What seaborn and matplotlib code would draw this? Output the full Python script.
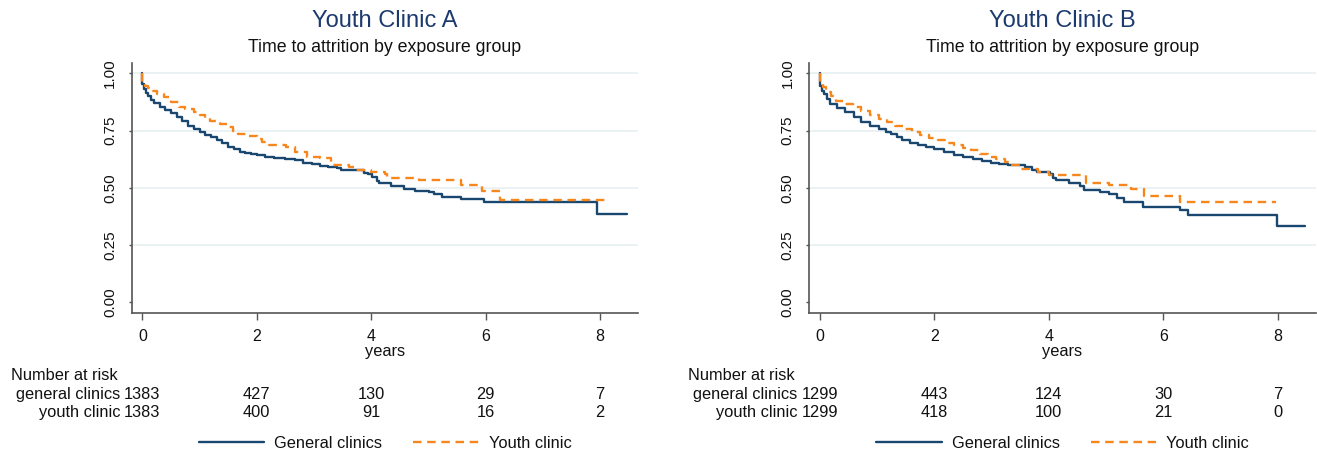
import matplotlib
matplotlib.use("Agg")
import matplotlib.pyplot as plt
import pandas as pd
import seaborn as sns


# Kaplan-Meier steps (time in years, survival from that time on)
A_GEN_T = [0, 0, 0.03, 0.06, 0.1, 0.15, 0.2, 0.3, 0.4, 0.5, 0.6, 0.7, 0.8, 0.9, 1.0, 1.1, 1.2, 1.3,
           1.4, 1.5, 1.6, 1.7, 1.8, 1.9, 2.0, 2.15, 2.3, 2.5, 2.66, 2.8, 2.96, 3.1, 3.25, 3.4, 3.47,
           3.88, 3.95, 4.02, 4.1, 4.13, 4.35, 4.57, 4.76, 5.01, 5.1, 5.24, 5.57, 5.97, 7.95, 8.47]
A_GEN_S = [1.0, 0.954, 0.93, 0.915, 0.9, 0.885, 0.87, 0.855, 0.84, 0.825, 0.81, 0.79, 0.772, 0.755,
           0.742, 0.73, 0.72, 0.708, 0.694, 0.68, 0.668, 0.658, 0.652, 0.647, 0.642, 0.636, 0.629,
           0.625, 0.62, 0.61, 0.603, 0.597, 0.591, 0.585, 0.58, 0.567, 0.56, 0.548, 0.532, 0.519,
           0.509, 0.497, 0.487, 0.48, 0.473, 0.461, 0.45, 0.436, 0.384, 0.384]

A_YOU_T = [0, 0, 0.05, 0.1, 0.16, 0.25, 0.38, 0.5, 0.64, 0.75, 0.9, 1.0, 1.1, 1.19, 1.35, 1.49, 1.58,
           1.67, 1.85, 2.0, 2.1, 2.22, 2.51, 2.66, 2.88, 3.1, 3.29, 3.62, 3.73, 3.99, 4.24, 4.28, 4.83,
           5.57, 5.93, 6.26, 8.1]
A_YOU_S = [1.0, 0.96, 0.945, 0.935, 0.925, 0.91, 0.895, 0.875, 0.855, 0.845, 0.832, 0.82, 0.805, 0.79,
           0.778, 0.765, 0.75, 0.736, 0.725, 0.714, 0.7, 0.686, 0.678, 0.657, 0.635, 0.632, 0.6, 0.591,
           0.577, 0.57, 0.562, 0.543, 0.533, 0.514, 0.487, 0.446, 0.446]

B_GEN_T = [0, 0, 0.04, 0.07, 0.12, 0.18, 0.3, 0.44, 0.6, 0.73, 0.88, 1.03, 1.15, 1.25, 1.35, 1.43, 1.57,
           1.72, 1.86, 2.0, 2.17, 2.34, 2.5, 2.67, 2.83, 2.99, 3.14, 3.29, 3.58, 3.7, 3.8, 4.02, 4.08,
           4.13, 4.35, 4.54, 4.62, 4.9, 5.06, 5.2, 5.31, 5.64, 6.3, 6.43, 7.99, 8.48]
B_GEN_S = [1.0, 0.946, 0.925, 0.91, 0.89, 0.867, 0.85, 0.83, 0.81, 0.787, 0.772, 0.758, 0.746, 0.736,
           0.722, 0.71, 0.698, 0.686, 0.678, 0.671, 0.657, 0.642, 0.635, 0.628, 0.619, 0.61, 0.604,
           0.599, 0.591, 0.58, 0.57, 0.559, 0.545, 0.533, 0.519, 0.507, 0.49, 0.483, 0.471, 0.454,
           0.439, 0.417, 0.403, 0.381, 0.334, 0.334]

B_YOU_T = [0, 0, 0.05, 0.11, 0.2, 0.29, 0.44, 0.59, 0.73, 0.88, 1.03, 1.17, 1.32, 1.47, 1.62, 1.76, 1.91,
           2.06, 2.2, 2.35, 2.5, 2.64, 2.8, 2.94, 3.08, 3.23, 3.36, 3.49, 3.82, 4.0, 4.66, 5.06, 5.43,
           5.66, 6.3, 7.97]
B_YOU_S = [1.0, 0.96, 0.94, 0.917, 0.9, 0.881, 0.866, 0.852, 0.834, 0.816, 0.801, 0.787, 0.772, 0.758,
           0.743, 0.729, 0.718, 0.707, 0.696, 0.686, 0.675, 0.664, 0.65, 0.635, 0.624, 0.613, 0.598,
           0.584, 0.57, 0.555, 0.519, 0.512, 0.497, 0.464, 0.439, 0.439]

PANEL_TITLES = ["Youth Clinic A", "Youth Clinic B"]
SUBTITLE = "Time to attrition by exposure group"
RISK_TIMES = [0, 2, 4, 6, 8]
RISK_A_GEN = [1383, 427, 130, 29, 7]
RISK_A_YOU = [1383, 400, 91, 16, 2]
RISK_B_GEN = [1299, 443, 124, 30, 7]
RISK_B_YOU = [1299, 418, 100, 21, 0]
GROUP_LABELS = ["General clinics", "Youth clinic"]
ROW_LABELS = ["general clinics", "youth clinic"]

NAVY = "#1a476f"
ORANGE = "#f7861c"
GRID = "#e6eff1"
AXIS = "#555555"


def make_frame(gen_t, gen_s, you_t, you_s):
    gen = pd.DataFrame({"years": gen_t, "surv": gen_s, "group": GROUP_LABELS[0]})
    you = pd.DataFrame({"years": you_t, "surv": you_s, "group": GROUP_LABELS[1]})
    return gen, you


def draw_panel(ax, title, gen, you, risk_gen, risk_you):
    for yv in [0.25, 0.5, 0.75, 1.0]:
        ax.axhline(yv, color=GRID, lw=1.1, zorder=0)

    sns.lineplot(data=gen, x="years", y="surv", ax=ax, color=NAVY, lw=1.7, estimator=None,
                 sort=False, drawstyle="steps-post", label=GROUP_LABELS[0])
    sns.lineplot(data=you, x="years", y="surv", ax=ax, color=ORANGE, lw=1.7, estimator=None,
                 sort=False, drawstyle="steps-post", linestyle=(0, (3.6, 2.4)),
                 label=GROUP_LABELS[1])

    ax.set_xlim(-0.186, 8.67)
    ax.set_ylim(-0.048, 1.044)
    ax.set_xticks(RISK_TIMES)
    ax.set_yticks([0, 0.25, 0.5, 0.75, 1.0])
    ax.set_yticklabels(["0.00", "0.25", "0.50", "0.75", "1.00"], rotation=90, va="center")
    ax.tick_params(axis="y", left=True, length=2.4, width=1, color=AXIS, pad=8, labelsize=11)
    ax.tick_params(axis="x", bottom=True, length=5, width=1, color=AXIS, pad=6, labelsize=11.5)
    ax.set_xlabel("years", fontsize=11.8, labelpad=0)
    ax.set_ylabel("")
    for side in ["top", "right"]:
        ax.spines[side].set_visible(False)
    for side in ["left", "bottom"]:
        ax.spines[side].set_color(AXIS)
        ax.spines[side].set_linewidth(1.2)
    ax.grid(False)

    ax.text(0.5, 1.17, title, transform=ax.transAxes, ha="center", va="center",
            fontsize=17, color="#1c3a6e")
    ax.text(0.5, 1.062, SUBTITLE, transform=ax.transAxes, ha="center", va="center",
            fontsize=12.8, color="#111111")

    # number at risk table
    blend = ax.get_xaxis_transform()
    ax.text(-0.238, -0.267, "Number at risk", transform=ax.transAxes, ha="left",
            va="baseline", fontsize=11.8)
    for row_y, label, counts in [(-0.343, ROW_LABELS[0], risk_gen), (-0.415, ROW_LABELS[1], risk_you)]:
        ax.text(-0.39, row_y, label, transform=blend, ha="right", va="baseline", fontsize=11.8)
        for t, n in zip(RISK_TIMES, counts):
            ax.text(t, row_y, str(n), transform=blend, ha="center", va="baseline", fontsize=11.8)

    ax.legend(loc="center", bbox_to_anchor=(0.5, -0.52), ncol=2, frameon=False, fontsize=11.8,
              handlelength=4.0, handletextpad=0.6, columnspacing=1.9)


def main():
    sns.set_theme(style="white")
    plt.rcParams["font.family"] = ["Liberation Sans", "DejaVu Sans"]
    plt.rcParams["text.color"] = "#111111"
    plt.rcParams["xtick.color"] = "#111111"
    plt.rcParams["ytick.color"] = "#111111"
    plt.rcParams["axes.labelcolor"] = "#111111"

    fig = plt.figure(figsize=(13.17, 4.55), dpi=100)
    ax_a = fig.add_axes([0.1, 0.3114, 0.3847, 0.5495])
    ax_b = fig.add_axes([0.6143, 0.3114, 0.385, 0.5495])

    gen_a, you_a = make_frame(A_GEN_T, A_GEN_S, A_YOU_T, A_YOU_S)
    gen_b, you_b = make_frame(B_GEN_T, B_GEN_S, B_YOU_T, B_YOU_S)
    draw_panel(ax_a, PANEL_TITLES[0], gen_a, you_a, RISK_A_GEN, RISK_A_YOU)
    draw_panel(ax_b, PANEL_TITLES[1], gen_b, you_b, RISK_B_GEN, RISK_B_YOU)

    fig.savefig("out.png", dpi=100)
    plt.close(fig)


if __name__ == "__main__":
    main()
